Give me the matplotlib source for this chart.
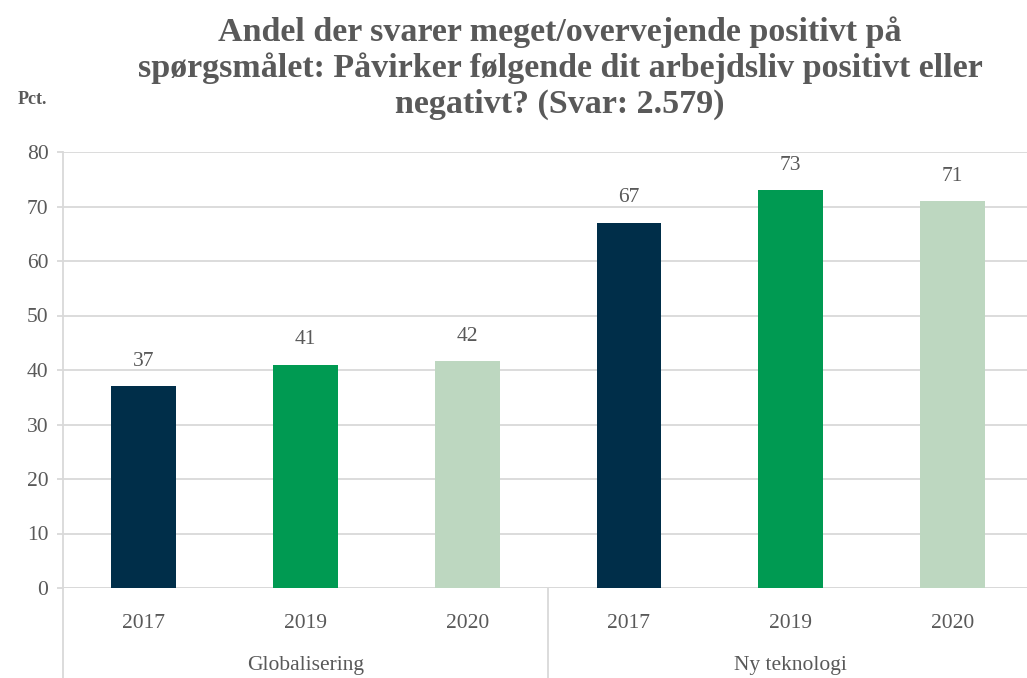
import matplotlib
matplotlib.use("Agg")
import matplotlib.pyplot as plt
import matplotlib.transforms as mtransforms

# data
groups = ["Globalisering", "Ny teknologi"]
years = ["2017", "2019", "2020"]
globalisering = [37, 41, 41.6]
ny_teknologi = [67, 73, 71]
labels_glob = ["37", "41", "42"]
labels_tek = ["67", "73", "71"]

year_colors = ["#002E49", "#009A52", "#BDD7C0"]
text_gray = "#595959"
grid_gray = "#D9D9D9"

plt.rcParams["font.family"] = ["Liberation Serif", "DejaVu Serif"]

fig = plt.figure(figsize=(10.27, 6.78), dpi=100)
ax = fig.add_axes([63 / 1027, 90 / 678, 970 / 1027, 436 / 678])

values = globalisering + ny_teknologi
value_labels = labels_glob + labels_tek
x = list(range(len(values)))
colors = year_colors * len(groups)

bars = ax.bar(x, values, width=0.4, color=colors, zorder=3)
for b, lab in zip(bars, value_labels):
    ax.annotate(lab, (b.get_x() + b.get_width() / 2, b.get_height()),
                xytext=(0, 25), textcoords="offset pixels",
                ha="center", va="center", fontsize=15.5, color=text_gray)

ax.set_xlim(-0.5, len(values) - 0.5)
ax.set_ylim(0, 80)
ax.set_yticks(range(0, 81, 10))
ax.set_xticks(x)
ax.set_xticklabels(years * len(groups))
ax.tick_params(axis="y", colors=grid_gray, labelcolor=text_gray, labelsize=15.5,
               length=4.5, width=1.3, pad=6)
ax.tick_params(axis="x", length=0, labelcolor=text_gray, labelsize=15.5, pad=19)
ax.yaxis.grid(True, color=grid_gray, linewidth=1.3, zorder=0)

for s in ["top", "right", "bottom"]:
    ax.spines[s].set_visible(False)
ax.spines["left"].set_color(grid_gray)
ax.spines["left"].set_linewidth(1.3)
ax.axhline(0, color=grid_gray, linewidth=1.3, zorder=2)

# group separators and group labels under the year labels
trans = mtransforms.blended_transform_factory(ax.transData, ax.transAxes)
for i in range(len(groups) + 1):
    xs = i * len(years) - 0.5
    ax.plot([xs, xs], [0, -0.21], transform=trans, color=grid_gray,
            linewidth=1.3, clip_on=False)
for i, g in enumerate(groups):
    ax.text(i * len(years) + 1, -0.177, g, transform=trans, ha="center",
            va="center", fontsize=15.5, color=text_gray)

fig.text(560 / 1027, 1 - 68 / 678,
         "Andel der svarer meget/overvejende positivt på\n"
         "spørgsmålet: Påvirker følgende dit arbejdsliv positivt eller\n"
         "negativt? (Svar: 2.579)",
         ha="center", va="center", fontsize=24.5, fontweight="bold",
         color=text_gray, linespacing=1.2)
fig.text(32 / 1027, 1 - 100 / 678, "Pct.", ha="center", va="center",
         fontsize=13, fontweight="bold", color=text_gray)

fig.savefig("out.png", dpi=100)
